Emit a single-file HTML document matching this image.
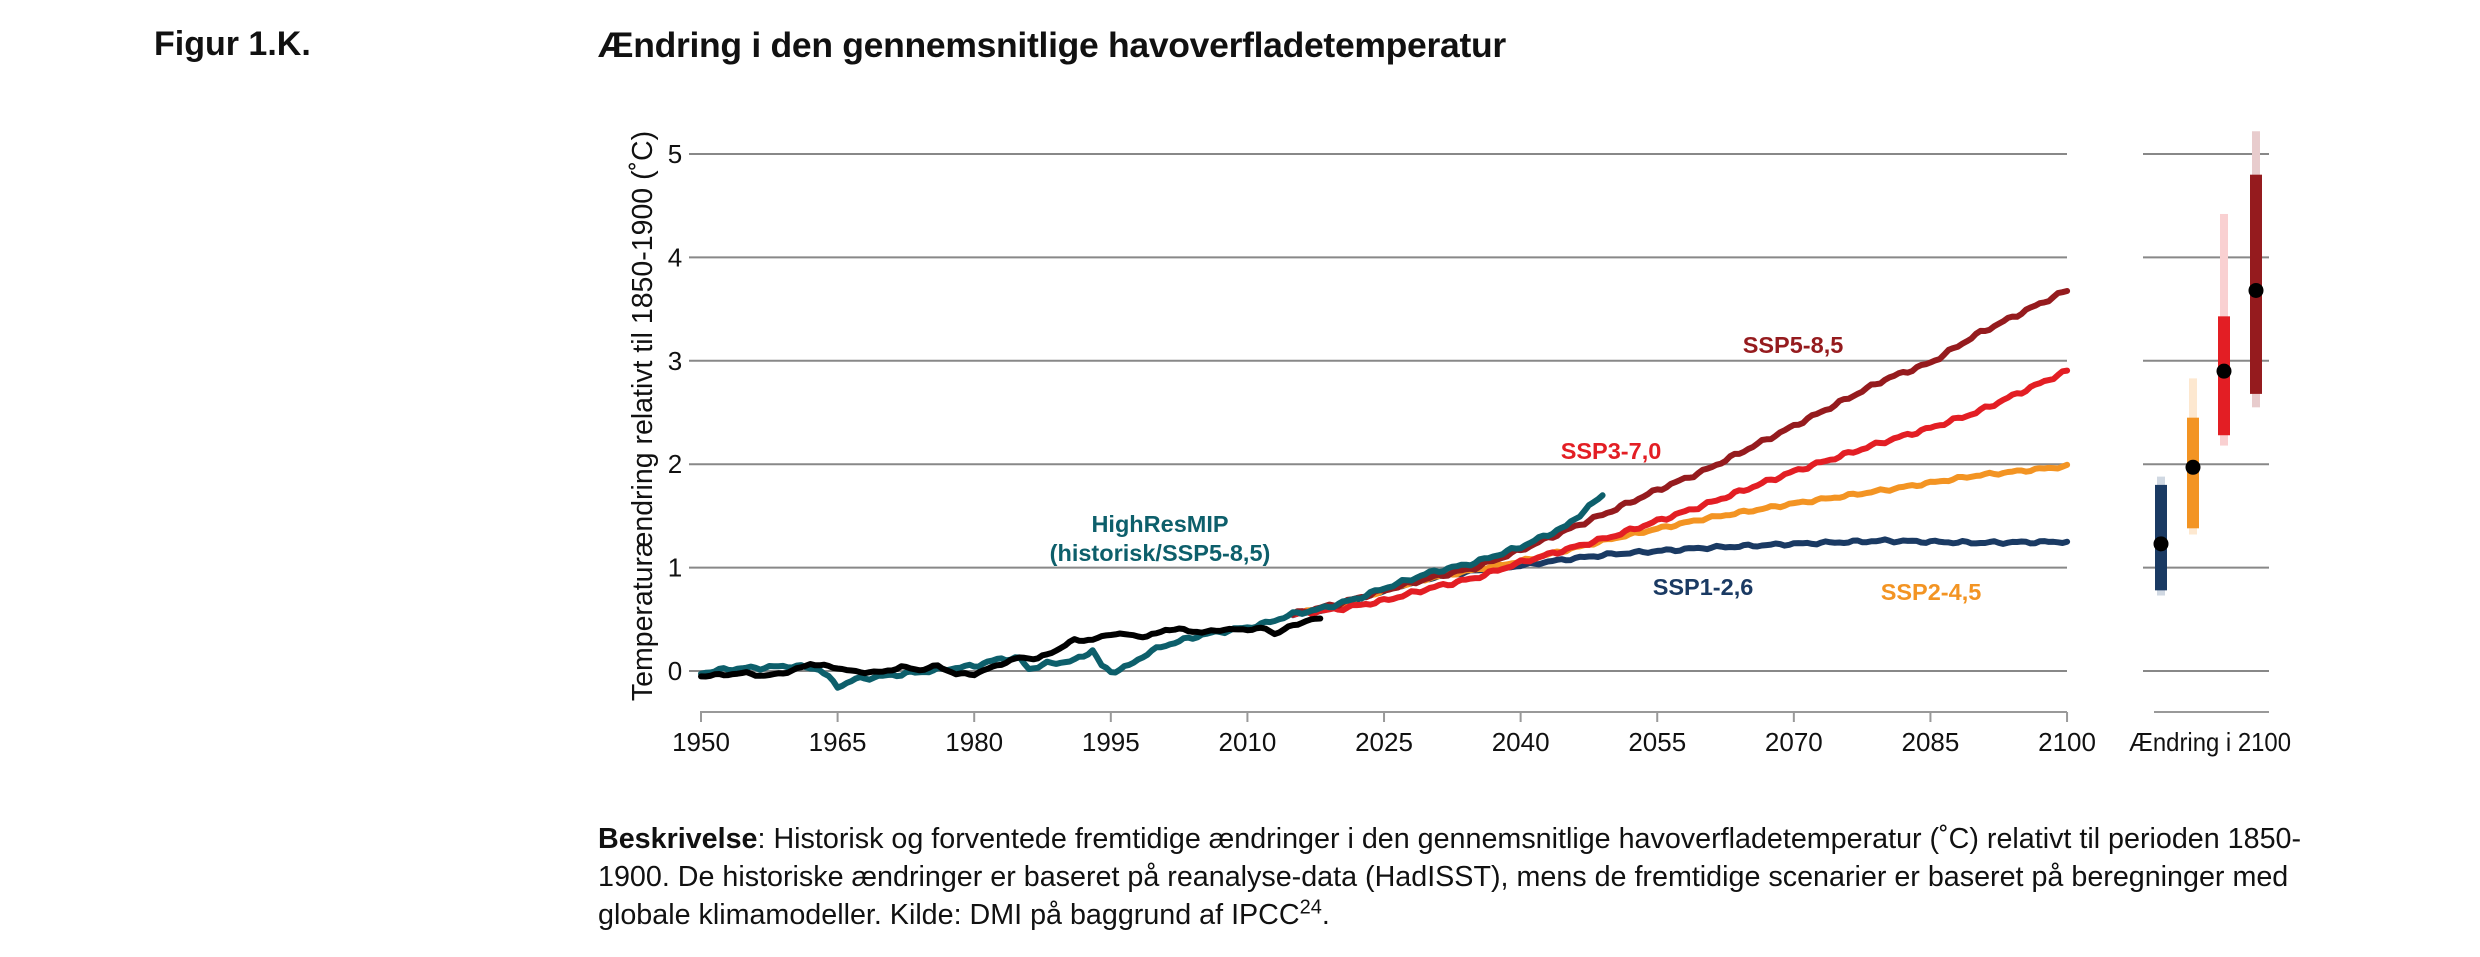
<!DOCTYPE html>
<html><head><meta charset="utf-8"><style>
html,body{margin:0;padding:0;background:#fff;}
body{width:2480px;height:957px;position:relative;overflow:hidden;font-family:"Liberation Sans",sans-serif;color:#111;}
.t{position:absolute;white-space:nowrap;}
</style></head><body>
<div class="t" style="left:154px;top:25px;font-size:34px;font-weight:bold;">Figur 1.K.</div>
<div class="t" style="left:598px;top:25px;font-size:35.5px;font-weight:bold;letter-spacing:-0.3px;">Ændring i den gennemsnitlige havoverfladetemperatur</div>
<div class="t" style="left:598px;top:820px;font-size:28.7px;line-height:38px;">
<b>Beskrivelse</b>: Historisk og forventede fremtidige ændringer i den gennemsnitlige havoverfladetemperatur (˚C) relativt til perioden 1850-<br>1900. De historiske ændringer er baseret på reanalyse-data (HadISST), mens de fremtidige scenarier er baseret på beregninger med<br>globale klimamodeller. Kilde: DMI på baggrund af IPCC<sup style="font-size:20px;line-height:0">24</sup>.</div>
<svg id="s" width="2480" height="957" style="position:absolute;left:0;top:0" xmlns="http://www.w3.org/2000/svg" font-family="Liberation Sans, sans-serif"></svg>
<script>
const s=document.getElementById('s');
const X=y=>701+(y-1950)*9.107, Y=v=>671-103.4*v;
let h='';
for(let v=0;v<=5;v++){h+=`<line x1="689" x2="2067" y1="${Y(v)}" y2="${Y(v)}" stroke="#888" stroke-width="2"/>`;
h+=`<line x1="2143" x2="2269" y1="${Y(v)}" y2="${Y(v)}" stroke="#888" stroke-width="2"/>`;
h+=`<text x="675" y="${Y(v)+9}" font-size="26" text-anchor="middle" fill="#111">${v}</text>`;}
h+=`<line x1="700" x2="2067" y1="712" y2="712" stroke="#999" stroke-width="2"/><line x1="2154" x2="2269" y1="712" y2="712" stroke="#999" stroke-width="2"/>`;
for(let yr=1950;yr<=2100;yr+=15){h+=`<line x1="${X(yr)}" x2="${X(yr)}" y1="712" y2="722" stroke="#999" stroke-width="2"/><text x="${X(yr)}" y="751" font-size="26" text-anchor="middle" fill="#111">${yr}</text>`;}
h+=`<text x="2210" y="751" font-size="26" text-anchor="middle" fill="#111" textLength="162" lengthAdjust="spacingAndGlyphs">Ændring i 2100</text>`;
h+=`<text transform="translate(652,416) rotate(-90)" font-size="28.5" text-anchor="middle" fill="#111">Temperaturændring relativt til 1850-1900 (˚C)</text>`;
function path(pts,col,seed,amp,end){let d='';const a=pts[0][0],b=end||pts[pts.length-1][0];
for(let t=a;t<=b+1e-6;t+=0.5){let i=0;while(i<pts.length-2&&pts[i+1][0]<t)i++;
const[p0,v0]=pts[i],[p1,v1]=pts[i+1];let v=v0+(v1-v0)*(t-p0)/(p1-p0);
v+=amp*(Math.sin(t*2.1+seed)*0.6+Math.sin(t*3.7+seed*2)*0.4);
d+=(d?'L':'M')+X(t).toFixed(1)+','+Y(v).toFixed(1);}
return `<path d="${d}" fill="none" stroke="${col}" stroke-width="6" stroke-linejoin="round" stroke-linecap="round"/>`;}
h+=path([[2015,0.55],[2020,0.62],[2025,0.78],[2030,0.9],[2035,0.97],[2040,1.02],[2045,1.08],[2050,1.13],[2060,1.19],[2070,1.23],[2080,1.26],[2090,1.24],[2100,1.25]],'#1a3a63',1,0.015);
h+=path([[2015,0.55],[2020,0.63],[2025,0.78],[2030,0.9],[2035,0.98],[2040,1.06],[2050,1.28],[2060,1.47],[2070,1.62],[2080,1.75],[2090,1.89],[2100,1.98]],'#f39423',2,0.015);
h+=path([[2015,0.55],[2020,0.6],[2025,0.68],[2030,0.8],[2035,0.9],[2040,1.05],[2050,1.3],[2055,1.45],[2060,1.6],[2070,1.93],[2080,2.22],[2085,2.35],[2090,2.5],[2100,2.9]],'#e31e24',3,0.02);
h+=path([[2015,0.55],[2020,0.65],[2025,0.78],[2030,0.9],[2035,1.0],[2040,1.17],[2050,1.55],[2055,1.75],[2060,1.93],[2070,2.37],[2080,2.82],[2085,2.98],[2090,3.25],[2100,3.68]],'#951b1e',4,0.02);
h+=path([[1950,-0.02],[1953,0.02],[1956,0.03],[1960,0.05],[1963,0.02],[1965,-0.15],[1967,-0.08],[1970,-0.05],[1975,0.0],[1978,0.03],[1980,0.05],[1983,0.12],[1985,0.12],[1986,0.02],[1988,0.07],[1991,0.1],[1993,0.2],[1994,0.05],[1995,-0.01],[1997,0.05],[1999,0.17],[2001,0.25],[2003,0.3],[2005,0.35],[2007,0.38],[2010,0.42],[2012,0.46],[2015,0.55],[2018,0.6],[2022,0.7],[2025,0.8],[2030,0.95],[2035,1.05],[2040,1.2],[2045,1.4],[2049,1.7]],'#0d5f6b',5,0.02);
h+=path([[1950,-0.05],[1955,-0.02],[1957,-0.05],[1960,0.0],[1962,0.07],[1965,0.03],[1967,-0.01],[1970,-0.01],[1972,0.04],[1974,0.01],[1976,0.05],[1978,-0.03],[1980,-0.03],[1983,0.07],[1985,0.13],[1987,0.12],[1989,0.2],[1991,0.3],[1993,0.3],[1995,0.36],[1997,0.35],[1999,0.33],[2001,0.4],[2003,0.4],[2005,0.37],[2007,0.4],[2009,0.4],[2012,0.41],[2013,0.36],[2015,0.44],[2017,0.5],[2018,0.5]],'#000',6,0.012);
const bars=[[2161,'#1a3a63','#d0d8e2',0.73,1.88,0.78,1.8,1.23],[2193,'#f39423','#fde8d0',1.32,2.83,1.38,2.45,1.97],[2224,'#e31e24','#f9d0d1',2.18,4.42,2.28,3.43,2.9],[2256,'#951b1e','#e8cccd',2.55,5.22,2.68,4.8,3.68]];
for(const[x,c,l,a,b,d1,d2,m]of bars){h+=`<rect x="${x-4}" y="${Y(b)}" width="8" height="${Y(a)-Y(b)}" fill="${l}"/><rect x="${x-6}" y="${Y(d2)}" width="12" height="${Y(d1)-Y(d2)}" fill="${c}"/><circle cx="${x}" cy="${Y(m)}" r="7.5" fill="#000"/>`;}
const lab=(x,y,t,c)=>`<text x="${x}" y="${y}" font-size="23.5" font-weight="bold" text-anchor="middle" fill="${c}">${t}</text>`;
h+=lab(1793,353,'SSP5-8,5','#951b1e')+lab(1611,459,'SSP3-7,0','#e31e24')+lab(1160,532,'HighResMIP','#0d5f6b')+lab(1160,561,'(historisk/SSP5-8,5)','#0d5f6b')+lab(1703,595,'SSP1-2,6','#1a3a63')+lab(1931,600,'SSP2-4,5','#f39423');
s.innerHTML=h;
</script>
</body></html>
